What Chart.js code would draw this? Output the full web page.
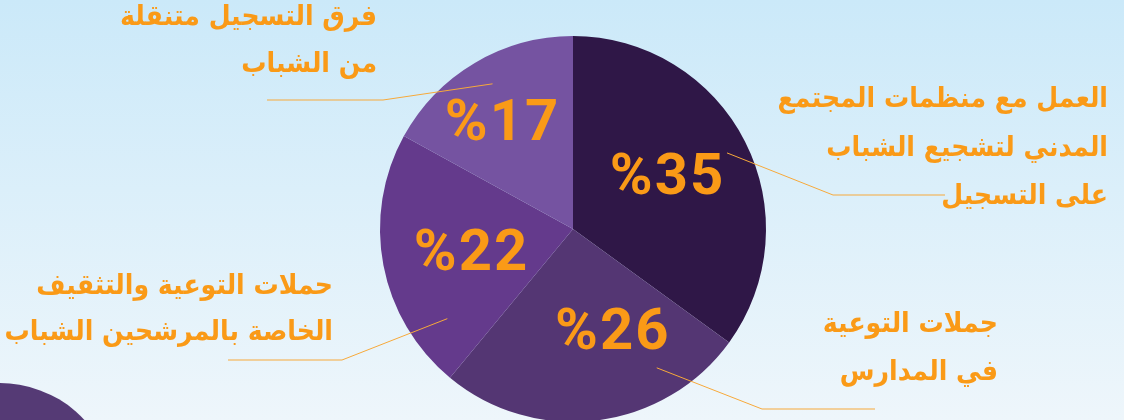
<!DOCTYPE html>
<html>
<head>
<meta charset="utf-8">
<script src="https://cdn.jsdelivr.net/npm/chart.js@4"></script>
<style>
  html, body { margin: 0; padding: 0; overflow: hidden; }
  body {
    width: 1124px; height: 420px; position: relative;
    background: linear-gradient(180deg, #cbe9f9 0%, #dbeffa 45%, #eef6fb 100%);
  }
  #blob {
    position: absolute; left: -112px; top: 383px; width: 220px; height: 194px;
    background: #553a75; border-radius: 50%;
  }
  #pie { position: absolute; left: 0; top: 0; }
</style>
</head>
<body>
<div id="blob"></div>
<canvas id="pie" width="1124" height="460"></canvas>
<script>
// slices go clockwise from 12 o'clock
const categories = [
  ['العمل مع منظمات المجتمع', 'المدني لتشجيع الشباب', 'على التسجيل'],
  ['جملات التوعية', 'في المدارس'],
  ['حملات التوعية والتثقيف', 'الخاصة بالمرشحين الشباب'],
  ['فرق التسجيل متنقلة', 'من الشباب']
];
const shares = [35, 26, 22, 17];
const sliceLabels = ['%35', '%26', '%22', '%17'];
const sliceColors = ['#2f1747', '#543673', '#643a8c', '#7553a1'];

const orange = '#fa9a17';

// where the text sits for each slice (angle shift in deg, fraction of radius)
const inner = [[-2, 0.56], [-14, 0.57], [-2.5, 0.54], [-3, 0.66]];
// leader lines: start on slice (angle from top, fraction), elbow and end relative to centre
const leaders = [
  { a: 63.7, f: 0.89, elbow: [260, -34], endX: 372 },
  { a: 148.9, f: 0.84, elbow: [189, 180], endX: 302 },
  { a: 234.5, f: 0.80, elbow: [-231, 131], endX: -345 },
  { a: 331, f: 0.86, elbow: [-190, -129], endX: -306 }
];
// outer text blocks: right edge x, first line centre y, line gap
const blocks = [
  [1108, 100, 48.5],
  [998, 325, 48],
  [333, 287, 46],
  [377, 18, 47]
];

const textPlugin = {
  id: 'textPlugin',
  afterDatasetsDraw(chart) {
    const ctx = chart.ctx;
    const arcs = chart.getDatasetMeta(0).data;
    arcs.forEach((arc, i) => {
      const p = arc.getProps(['x', 'y', 'startAngle', 'endAngle', 'outerRadius'], true);
      const r = p.outerRadius;
      const mid = (p.startAngle + p.endAngle) / 2 + inner[i][0] * Math.PI / 180;
      const tx = p.x + Math.cos(mid) * r * inner[i][1];
      const ty = p.y + Math.sin(mid) * r * inner[i][1];
      ctx.save();
      ctx.fillStyle = orange;
      ctx.font = 'bold 58px Roboto';
      ctx.letterSpacing = '2px';
      ctx.textAlign = 'center';
      ctx.textBaseline = 'middle';
      ctx.direction = 'ltr';
      ctx.fillText(sliceLabels[i], tx, ty + 3);
      ctx.restore();

      // leader line
      const L = leaders[i];
      const a = (L.a - 90) * Math.PI / 180;
      ctx.save();
      ctx.strokeStyle = '#f7a93a';
      ctx.lineWidth = 1;
      ctx.beginPath();
      ctx.moveTo(p.x + Math.cos(a) * r * L.f, p.y + Math.sin(a) * r * L.f);
      ctx.lineTo(p.x + L.elbow[0], p.y + L.elbow[1]);
      ctx.lineTo(p.x + L.endX, p.y + L.elbow[1]);
      ctx.stroke();
      ctx.restore();

      // category text
      const b = blocks[i];
      ctx.save();
      ctx.fillStyle = orange;
      ctx.font = 'bold 28px "DejaVu Sans Condensed"';
      ctx.direction = 'rtl';
      ctx.textAlign = 'right';
      ctx.textBaseline = 'middle';
      categories[i].forEach((line, k) => {
        ctx.fillText(line, b[0], b[1] + k * b[2]);
      });
      ctx.restore();
    });
  }
};

new Chart(document.getElementById('pie'), {
  type: 'pie',
  data: {
    labels: categories.map(c => c.join(' ')),
    datasets: [{
      data: shares,
      backgroundColor: sliceColors,
      borderWidth: 0
    }]
  },
  options: {
    responsive: false,
    animation: false,
    layout: { padding: { top: 36, bottom: 38, left: 22, right: 0 } },
    plugins: {
      legend: { display: false },
      tooltip: { enabled: false }
    }
  },
  plugins: [textPlugin]
});
</script>
</body>
</html>
